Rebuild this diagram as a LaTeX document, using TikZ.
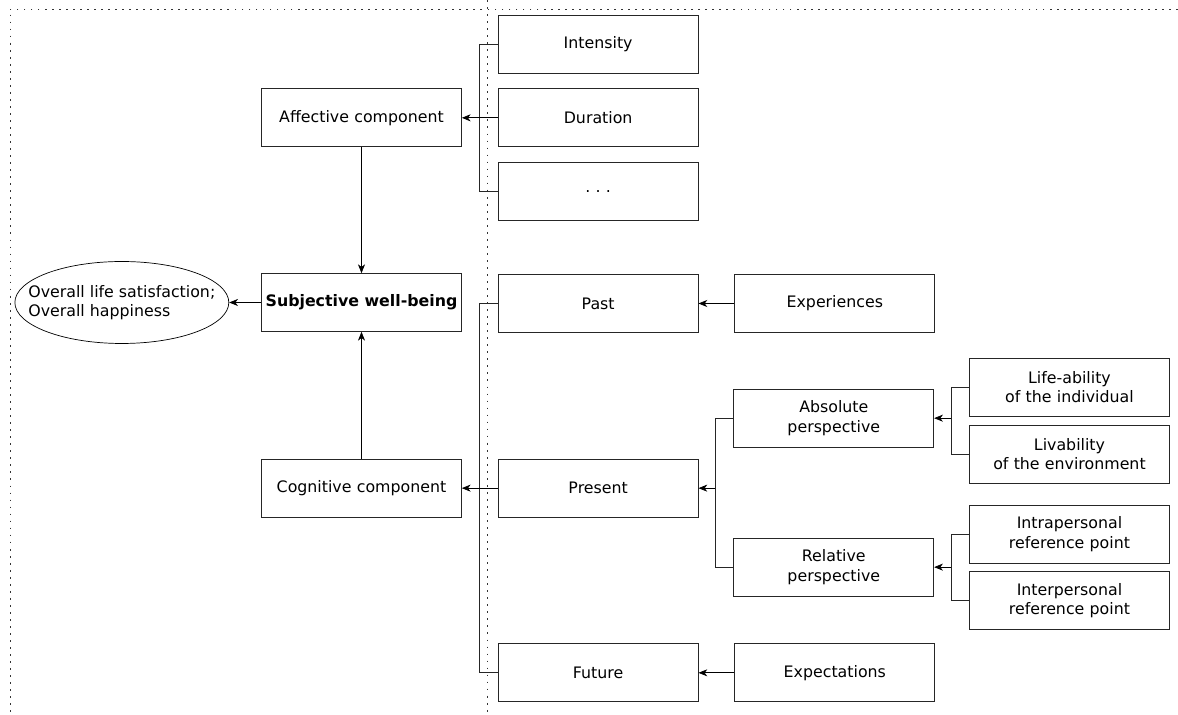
\documentclass[tikz,border=0pt]{standalone}
\usepackage{fontspec}
\setmainfont{DejaVu Sans}
\usetikzlibrary{shapes.geometric,arrows.meta,positioning}
\tikzstyle{block} = [rectangle, draw=black!85, text width=3.8cm, align=center, minimum width=4cm, minimum height=1.16cm, inner sep=0pt, font=\fontsize{9}{11}\selectfont]
\tikzstyle{mainblock} = [rectangle, draw=black!85, minimum width=4cm, minimum height=1.16cm, inner sep=0pt, font=\fontsize{9}{11}\selectfont\bfseries]
\tikzstyle{oval} = [ellipse, draw, minimum width=4.28cm, minimum height=1.64cm, inner xsep=-0.38cm, inner ysep=0pt, align=left, font=\fontsize{9}{11}\selectfont]
\tikzstyle{line} = [draw, -{Stealth[length=5pt,width=4pt,inset=1.5pt]}]
\tikzstyle{bracket} = [draw, black!85]
\tikzstyle{frame} = [draw=black!80, dash pattern=on 1pt off 3pt]

\begin{document}
\begin{tikzpicture}[x=0.02cm, y=-0.02cm]
    \useasboundingbox (0,0) rectangle (1178,715);
    % frame
    \path [frame] (1178,9) -- (10,9) -- (10,715);
    \path [frame] (487,0) -- (487,715);
    % centre column
    \node [mainblock] (swb) at (361.5,302.5) {Subjective well-being};
    \node [block, above =2.52cm of swb] (affective) {Affective component};
    \node [block, below =2.54cm of swb] (cognitive) {Cognitive component};
    \node [oval, left =0.64cm of swb] (overall) {Overall life satisfaction;\\Overall happiness};
    % affective side
    \node [block, right =0.72cm of affective] (duration) {Duration};
    \node [block, above =0.3cm of duration] (intensity) {Intensity};
    \node [block, below =0.3cm of duration] (more) {.\ .\ .};
    % cognitive side
    \node [block, right =0.72cm of cognitive] (present) {Present};
    \node [block, above =2.52cm of present] (past) {Past};
    \node [block, below =2.52cm of present] (future) {Future};
    \node [block, right =0.72cm of past] (experiences) {Experiences};
    \node [block, right =0.72cm of future] (expectations) {Expectations};
    \node [block, right =0.7cm of present, yshift=1.4cm] (absolute) {Absolute\\perspective};
    \node [block, right =0.7cm of present, yshift=-1.58cm] (relative) {Relative\\perspective};
    \node [block, right =0.7cm of absolute, yshift=0.62cm] (lifeability) {Life-ability\\of the individual};
    \node [block, below =0.16cm of lifeability] (livability) {Livability\\of the environment};
    \node [block, right =0.7cm of relative, yshift=0.66cm] (intrapers) {Intrapersonal\\reference point};
    \node [block, below =0.16cm of intrapers] (interpers) {Interpersonal\\reference point};
    % brackets
    \coordinate [left=0.36cm of intensity.west] (affc);
    \coordinate [left=0.36cm of past.west] (timec);
    \coordinate [left=0.36cm of absolute.west] (perspc);
    \coordinate [left=0.36cm of lifeability.west] (absc);
    \coordinate [left=0.36cm of intrapers.west] (relc);
    \path [bracket] (intensity.west) -- (affc) |- (more.west);
    \path [bracket] (past.west) -- (timec) |- (future.west);
    \path [bracket] (absolute.west) -- (perspc) |- (relative.west);
    \path [bracket] (lifeability.west) -- (absc) |- (livability.west);
    \path [bracket] (intrapers.west) -- (relc) |- (interpers.west);
    % arrows
    \path [line] (duration.west) -- (affective.east);
    \path [line] (present.west) -- (cognitive.east);
    \path [line] (perspc |- present.east) -- (present.east);
    \path [line] (absc |- absolute.east) -- (absolute.east);
    \path [line] (relc |- relative.east) -- (relative.east);
    \path [line] (experiences.west) -- (past.east);
    \path [line] (expectations.west) -- (future.east);
    \path [line] (affective.south) -- (swb.north);
    \path [line] (cognitive.north) -- (swb.south);
    \path [line] (swb.west) -- (overall.east);
\end{tikzpicture}
\end{document}
